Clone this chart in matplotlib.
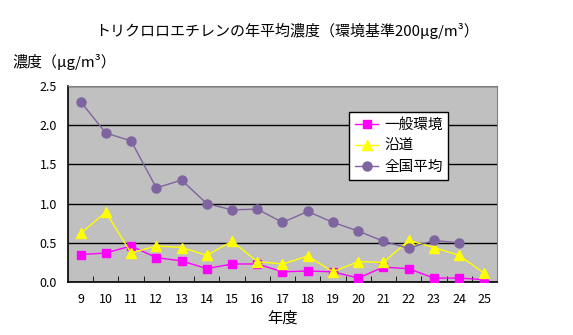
import numpy as np
import matplotlib
matplotlib.use('Agg')
import matplotlib.pyplot as plt

plt.rcParams['font.family'] = ['Noto Sans CJK JP', 'DejaVu Sans']

# data
years = ['9', '10', '11', '12', '13', '14', '15', '16', '17', '18', '19', '20', '21', '22', '23', '24', '25']
general = [0.35, 0.37, 0.46, 0.31, 0.27, 0.17, 0.23, 0.23, 0.13, 0.14, 0.13, 0.05, 0.19, 0.17, 0.05, 0.05, 0.03]
roadside = [0.62, 0.89, 0.37, 0.46, 0.44, 0.34, 0.52, 0.26, 0.23, 0.33, 0.13, 0.26, 0.25, 0.53, 0.44, 0.34, 0.11]
national = [2.3, 1.9, 1.8, 1.2, 1.3, 1.0, 0.92, 0.93, 0.76, 0.9, 0.76, 0.65, 0.52, 0.43, 0.53, 0.5]

fig = plt.figure(figsize=(5.73, 3.35), dpi=100)
ax = fig.add_axes([68 / 573, 53 / 335, 429 / 573, 196 / 335])
ax.set_facecolor('#c0c0c0')

x = np.arange(len(years))
ax.plot(x, general, color='#ff00ff', lw=1, marker='s', ms=6, label='一般環境', zorder=3)
ax.plot(x, roadside, color='#ffff00', lw=1, marker='^', ms=7, label='沿道', zorder=3)
ax.plot(x[:len(national)], national, color='#7f659f', lw=1, marker='o', ms=6.5, label='全国平均', zorder=3)

ax.set_xlim(-0.5, len(years) - 0.5)
ax.set_ylim(0, 2.5)
ax.set_yticks([0, 0.5, 1.0, 1.5, 2.0, 2.5])
ax.set_yticklabels(['0.0', '0.5', '1.0', '1.5', '2.0', '2.5'], fontsize=9)
ax.set_xticks(x)
ax.set_xticklabels(years, fontsize=9)
ax.set_xticks(np.arange(0.5, len(years) - 1, 1), minor=True)
ax.tick_params(axis='x', which='major', length=0, pad=8)
ax.tick_params(axis='x', which='minor', direction='in', length=4, color='black')
ax.tick_params(axis='y', length=0, pad=8)
ax.yaxis.grid(True, color='black', lw=1)
ax.set_axisbelow(True)
for s in ['top', 'right']:
    ax.spines[s].set_color('#808080')
for s in ['left', 'bottom']:
    ax.spines[s].set_color('black')
    ax.spines[s].set_linewidth(1.2)

leg = ax.legend(loc='upper left', bbox_to_anchor=(349 / 573, 1 - 112 / 335),
                bbox_transform=fig.transFigure, fontsize=10.5, frameon=True,
                fancybox=False, edgecolor='black', framealpha=1,
                borderaxespad=0, handlelength=1.6, handletextpad=0.4,
                labelspacing=0.5, borderpad=0.4)
leg.get_frame().set_linewidth(1)

fig.text(287 / 573, 1 - 31 / 335, 'トリクロロエチレンの年平均濃度（環境基準200μg/m³）',
         ha='center', va='center', fontsize=10.8)
fig.text(12 / 573, 1 - 62 / 335, '濃度（μg/m³）', ha='left', va='center', fontsize=10.8)
fig.text(282 / 573, 1 - 318 / 335, '年度', ha='center', va='center', fontsize=11)

plt.savefig('out.png', dpi=100)
